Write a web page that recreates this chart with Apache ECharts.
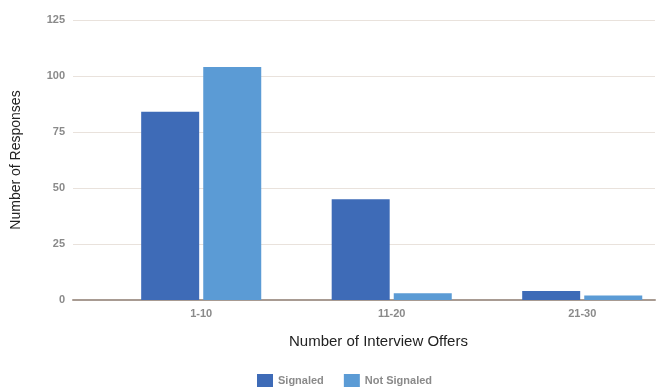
<!DOCTYPE html>
<html>
<head>
<meta charset="utf-8">
<script src="https://cdn.jsdelivr.net/npm/echarts@6/dist/echarts.min.js"></script>
<style>
  html, body { margin: 0; padding: 0; background: #ffffff; }
  #chart { width: 660px; height: 390px; }
</style>
</head>
<body>
<div id="chart"></div>
<script>
// Interview offer buckets and survey response counts
const categories = ['1-10', '11-20', '21-30'];
const signaled = [84, 45, 4];
const notSignaled = [104, 3, 2];
const yTicks = [0, 25, 50, 75, 100, 125];

// Bars sit on a numeric x scale at positions 1..n so the plot can run a bit wider than the groups
const positions = categories.map((_, i) => i + 1);
const toPairs = vals => vals.map((v, i) => [positions[i], v]);

const chart = echarts.init(document.getElementById('chart'));

const labelStyle = {
  color: '#8a8a8a',
  fontSize: 11,
  fontWeight: 'bold',
  fontFamily: 'Liberation Sans, Arial, sans-serif'
};

chart.setOption({
  animation: false,
  backgroundColor: '#ffffff',
  grid: {
    left: 73, right: 5, top: 20, bottom: 90,
    containLabel: false,
    outerBoundsMode: 'none'
  },
  xAxis: {
    type: 'value',
    min: 0.327,
    max: 3.382,
    splitLine: { show: false },
    axisLine: { show: true, onZero: true, lineStyle: { color: '#a89b92', width: 2 } },
    axisTick: { show: false },
    axisLabel: {
      ...labelStyle,
      margin: 8,
      customValues: positions,
      formatter: v => categories[Math.round(v) - 1] || ''
    }
  },
  yAxis: {
    type: 'value',
    min: 0,
    max: 125,
    interval: 25,
    name: 'Number of Responses',
    nameLocation: 'middle',
    nameGap: 50,
    nameTextStyle: { color: '#222', fontSize: 14, fontFamily: 'Liberation Sans, Arial, sans-serif' },
    axisLine: { show: false },
    axisTick: { show: false },
    axisLabel: { ...labelStyle, margin: 8, formatter: v => yTicks.includes(v) ? String(v) : '' },
    splitLine: { lineStyle: { color: '#e9e2dc', width: 1 } }
  },
  legend: {
    top: 374,
    left: 257,
    padding: 0,
    itemWidth: 16,
    itemHeight: 13,
    itemGap: 20,
    icon: 'rect',
    textStyle: { ...labelStyle },
    data: ['Signaled', 'Not Signaled']
  },
  graphic: [{
    type: 'text',
    left: 289,
    top: 334,
    style: {
      text: 'Number of Interview Offers',
      fill: '#222',
      font: '15px "Liberation Sans", Arial, sans-serif'
    }
  }],
  series: [
    {
      name: 'Signaled',
      type: 'bar',
      data: toPairs(signaled),
      barWidth: 58,
      barGap: '7%',
      itemStyle: { color: '#3e6bb7' }
    },
    {
      name: 'Not Signaled',
      type: 'bar',
      data: toPairs(notSignaled),
      barWidth: 58,
      itemStyle: { color: '#5b9bd5' }
    }
  ]
});
</script>
</body>
</html>
